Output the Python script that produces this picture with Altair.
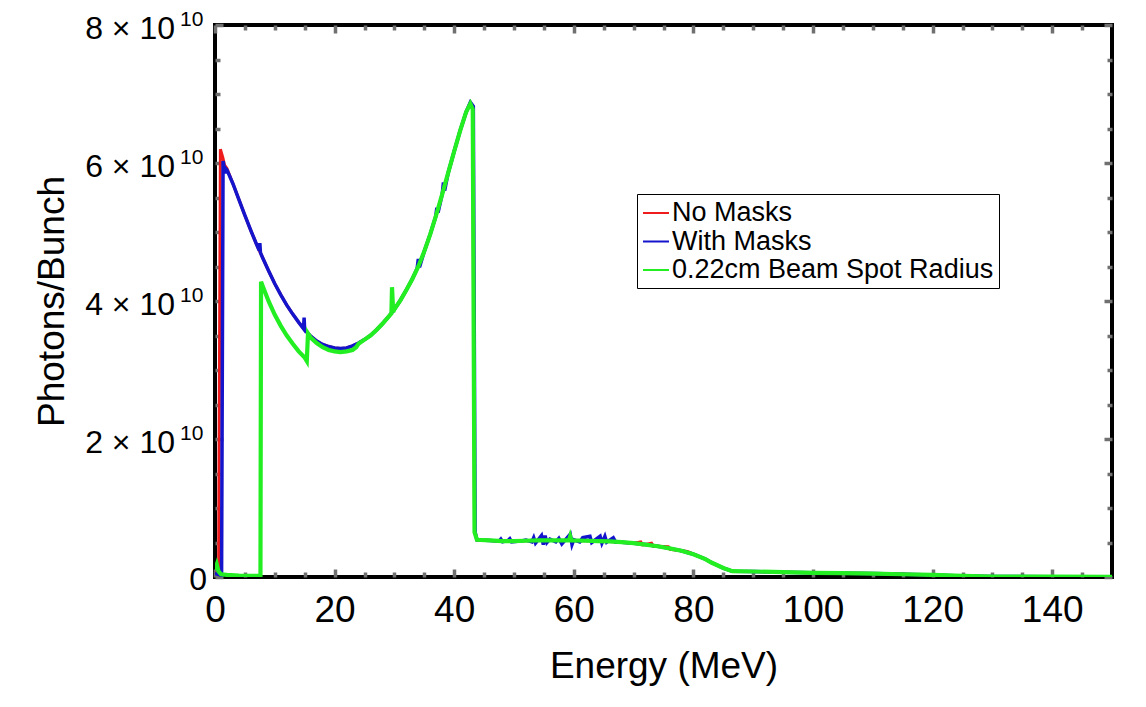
import altair as alt
import pandas as pd

# ---------------- data (Energy in MeV, Photons/Bunch in units of 1e10) ----------------
SERIES = ["No Masks", "With Masks", "0.22cm Beam Spot Radius"]
COLORS = ["#ee1c1c", "#1414cc", "#22ee22"]

no_masks = [
    (0, 0.06), (0.3, 0.05), (0.6, 0.04), (0.9, 6.20), (1.3, 6.08), (1.6, 5.97),
    (2, 5.92), (3, 5.70), (4, 5.47), (5, 5.24), (6, 5.02), (7, 4.81), (8, 4.62), (9, 4.43), (10, 4.25),
    (11, 4.09), (12, 3.94), (13, 3.81), (14, 3.69), (15, 3.58), (16, 3.49), (17, 3.42), (18, 3.37), (19, 3.34), (20, 3.32),
    (21, 3.31), (22, 3.32), (23, 3.35), (24, 3.39), (25, 3.44), (26, 3.50), (27, 3.58), (28, 3.67), (29, 3.77), (30, 3.88),
    (31, 4.01), (32, 4.16), (33, 4.32), (34, 4.50), (35, 4.72), (36, 4.97), (37, 5.25), (38, 5.55), (39, 5.86), (40, 6.17),
    (41, 6.47), (42, 6.74), (42.7, 6.87), (43.1, 6.80), (43.4, 0.65), (43.8, 0.54),
    (46, 0.53), (48, 0.52), (50, 0.52), (52, 0.525), (54, 0.53), (56, 0.53), (58, 0.53), (60, 0.53), (62, 0.525), (64, 0.52),
    (66, 0.515), (68, 0.505), (70, 0.49), (71.2, 0.51), (71.5, 0.465), (72, 0.47), (73, 0.49), (73.3, 0.445), (74, 0.445),
    (75.8, 0.44), (76.1, 0.40), (78, 0.38), (79, 0.37), (80, 0.33), (82, 0.26), (83, 0.21), (84, 0.17), (85, 0.13), (86.5, 0.085),
    (90, 0.08), (95, 0.07), (100, 0.06), (105, 0.055), (110, 0.05), (115, 0.04), (120, 0.03), (125, 0.015), (130, 0.007),
    (140, 0.004), (150, 0.003),
]

with_masks = [
    (0, 0.05), (0.5, 0.04), (1.1, 0.02), (1.35, 6.03), (1.7, 5.85), (1.8, 5.92),
    (2, 5.90), (3, 5.70), (4, 5.47), (5, 5.24), (6, 5.02), (7, 4.81), (7.4, 4.73), (7.5, 4.84), (7.6, 4.70), (8, 4.62),
    (9, 4.43), (10, 4.25), (11, 4.09), (12, 3.94), (13, 3.81), (14, 3.69), (14.8, 3.60), (14.9, 3.76), (15.0, 3.58),
    (16, 3.49), (17, 3.42), (18, 3.37), (19, 3.34), (20, 3.32), (21, 3.31), (22, 3.32), (23, 3.35), (24, 3.39), (25, 3.44),
    (26, 3.50), (27, 3.58), (28, 3.67), (29, 3.77), (30, 3.88), (31, 4.01), (32, 4.16), (33, 4.32), (33.8, 4.47),
    (34.0, 4.61), (34.2, 4.49), (35, 4.72), (36, 4.97), (36.9, 5.22), (37.1, 5.35), (37.3, 5.28), (38, 5.55), (38.2, 5.72),
    (38.4, 5.60), (39, 5.86), (40, 6.17), (41, 6.47), (42, 6.74), (42.7, 6.88), (43.2, 6.82), (43.5, 0.65), (43.8, 0.54),
    (46, 0.53), (47.5, 0.52), (47.8, 0.55), (48.1, 0.51), (49, 0.53), (49.3, 0.555), (49.6, 0.51), (51, 0.52), (52, 0.535),
    (53, 0.51), (53.3, 0.57), (53.6, 0.49), (54.6, 0.60), (54.9, 0.47), (55.2, 0.60), (55.5, 0.50), (56, 0.55), (57, 0.51),
    (57.5, 0.56), (58, 0.48), (59.4, 0.62), (59.7, 0.47), (60, 0.54), (61, 0.51), (61.5, 0.57), (62.7, 0.59), (63, 0.50),
    (64.4, 0.59), (64.7, 0.49), (65.2, 0.59), (65.5, 0.505), (66.6, 0.57), (67, 0.505), (68, 0.505),
    (70, 0.49), (72, 0.47), (74, 0.445), (76, 0.415), (78, 0.38), (80, 0.33), (82, 0.26), (83, 0.21), (84, 0.17), (85, 0.13),
    (86.5, 0.085), (90, 0.08), (95, 0.07), (100, 0.06), (105, 0.055), (110, 0.05), (112, 0.048), (115, 0.04), (120, 0.03),
    (125, 0.015), (130, 0.007), (140, 0.004), (150, 0.003),
]

beam_spot = [
    (0, 0.10), (0.3, 0.18), (0.6, 0.08), (1.0, 0.04), (2, 0.03), (4, 0.02), (7.6, 0.015), (7.7, 4.28), (8, 4.21),
    (9, 3.99), (10, 3.80), (11, 3.64), (12, 3.50), (13, 3.38), (14, 3.27), (15, 3.18), (15.35, 3.13), (15.55, 3.53),
    (16, 3.47), (17, 3.39), (18, 3.33), (19, 3.29), (20, 3.27), (21, 3.26), (22, 3.27), (23, 3.29), (23.6, 3.33),
    (24, 3.38), (25, 3.44), (26, 3.50), (27, 3.58), (28, 3.67), (29, 3.77), (29.5, 3.82), (29.6, 4.20), (29.8, 3.84),
    (30, 3.88), (31, 4.01), (32, 4.16), (33, 4.32), (34, 4.50), (35, 4.72), (36, 4.97), (37, 5.25), (38, 5.55),
    (39, 5.86), (40, 6.17), (41, 6.47), (42, 6.74), (42.7, 6.86), (43.1, 6.78), (43.4, 0.65), (43.8, 0.54),
    (46, 0.53), (48, 0.52), (50, 0.52), (52, 0.525), (54, 0.53), (56, 0.53), (58, 0.53), (59.2, 0.53), (59.4, 0.59),
    (59.6, 0.53), (62, 0.525), (64, 0.52), (66, 0.515), (68, 0.505), (70, 0.49), (72, 0.47), (74, 0.445), (76, 0.415),
    (78, 0.38), (80, 0.33), (82, 0.26), (83, 0.21), (84, 0.17), (85, 0.13), (86.5, 0.085), (90, 0.08), (95, 0.07),
    (100, 0.06), (105, 0.055), (110, 0.05), (115, 0.04), (120, 0.03), (125, 0.015), (130, 0.007), (140, 0.004), (150, 0.003),
]

x_major = [0, 20, 40, 60, 80, 100, 120, 140]
x_minor = [5, 10, 15, 25, 30, 35, 45, 50, 55, 65, 70, 75, 85, 90, 95, 105, 110, 115, 125, 130, 135, 145]
y_major = [0, 2, 4, 6, 8]
y_minor = [0.5, 1, 1.5, 2.5, 3, 3.5, 4.5, 5, 5.5, 6.5, 7, 7.5]
y_label_values = [2, 4, 6, 8]
y_label_mantissa = ["2 × 10", "4 × 10", "6 × 10", "8 × 10"]
y_label_exponent = ["10", "10", "10", "10"]

# ---------------- build tables ----------------
rows = []
for name, pts in zip(SERIES, [no_masks, with_masks, beam_spot]):
    for e, p in pts:
        rows.append({"E": e, "P": p, "series": name})
df = pd.DataFrame(rows)
frame_df = pd.DataFrame({"E": [0, 150], "P": [0, 8]})
ylab_df = pd.DataFrame({"v": y_label_values, "mant": y_label_mantissa, "exp": y_label_exponent})
zero_df = pd.DataFrame({"v": [0], "t": ["0"]})

FONT = "Liberation Sans"
TICK = "#707070"
W, H = 897, 552

x_scale = alt.Scale(domain=[0, 150], nice=False, zero=False)
y_scale = alt.Scale(domain=[0, 8], nice=False, zero=False)


def tick_axis(orient, values, size):
    return alt.Axis(orient=orient, values=values, tickSize=size, offset=-size, tickWidth=3.5,
                    tickColor=TICK, domain=False, grid=False, labels=False, title=None)


x_bottom = alt.Axis(orient="bottom", values=x_major, tickSize=8, offset=-8, tickWidth=3.5, tickColor=TICK,
                    domain=False, grid=False, labelFont=FONT, labelFontSize=37, labelColor="black",
                    labelPadding=15, labelFlush=False, labelOverlap=False, format="d",
                    title="Energy (MeV)", titleFont=FONT, titleFontSize=37, titleFontWeight="normal",
                    titleColor="black", titleBaseline="alphabetic", titleX=W / 2, titleY=108)
y_left = alt.Axis(orient="left", values=y_major, tickSize=8, offset=-8, tickWidth=3.5, tickColor=TICK,
                  domain=False, grid=False, labels=False,
                  title="Photons/Bunch", titleFont=FONT, titleFontSize=37, titleFontWeight="normal",
                  titleColor="black", titleBaseline="alphabetic", titleX=-160, titleY=H / 2)

color = alt.Color("series:N", scale=alt.Scale(domain=SERIES, range=COLORS),
                  legend=alt.Legend(title=None, orient="none", legendX=422, legendY=169,
                                    symbolType="stroke", symbolSize=676, symbolStrokeWidth=2,
                                    labelFont=FONT, labelFontSize=27, labelColor="black", labelLimit=600,
                                    labelOffset=2, rowPadding=1.5, padding=5,
                                    strokeColor="black", fillColor="white"))


def line(name, width, xa, ya):
    return alt.Chart(df).transform_filter(alt.datum.series == name).mark_line(
        strokeWidth=width, clip=True).encode(
        x=alt.X("E:Q", scale=x_scale, axis=xa),
        y=alt.Y("P:Q", scale=y_scale, axis=ya),
        color=color)


red = line(SERIES[0], 3, x_bottom, y_left)
blue = line(SERIES[1], 3.5, None, None)
green = line(SERIES[2], 4.2, None, None)


def axis_layer(xa, ya):
    return alt.Chart(frame_df).mark_point(opacity=0).encode(
        x=alt.X("E:Q", scale=x_scale, axis=xa),
        y=alt.Y("P:Q", scale=y_scale, axis=ya))


minor_bl = axis_layer(tick_axis("bottom", x_minor, 5), tick_axis("left", y_minor, 5))
major_tr = axis_layer(tick_axis("top", x_major, 8), tick_axis("right", y_major, 8))
minor_tr = axis_layer(tick_axis("top", x_minor, 5), tick_axis("right", y_minor, 5))

main_txt = alt.Chart(ylab_df).mark_text(align="right", baseline="alphabetic", font=FONT, fontSize=32,
                                        color="black", dy=13.5).encode(
    x=alt.value(-40), y=alt.Y("v:Q", scale=y_scale, axis=None), text="mant:N")
sup_txt = alt.Chart(ylab_df).mark_text(align="left", baseline="alphabetic", font=FONT, fontSize=21,
                                       color="black", dy=1).encode(
    x=alt.value(-35), y=alt.Y("v:Q", scale=y_scale, axis=None), text="exp:N")
zero_txt = alt.Chart(zero_df).mark_text(align="right", baseline="alphabetic", font=FONT, fontSize=32,
                                        color="black", dy=13).encode(
    x=alt.value(-8), y=alt.Y("v:Q", scale=y_scale, axis=None), text="t:N")

chart = alt.layer(red, blue, green, minor_bl, major_tr, minor_tr, main_txt, sup_txt, zero_txt).resolve_axis(
    x="independent", y="independent"
).properties(
    width=W, height=H,
    autosize=alt.AutoSizeParams(type="none"),
    padding={"left": 207, "top": 17, "right": 20, "bottom": 110},
    background="white",
).configure_view(stroke="black", strokeWidth=4).configure_legend(strokeWidth=1, cornerRadius=0)

chart.save("out.html", embed_options={"renderer": "svg", "actions": False})
